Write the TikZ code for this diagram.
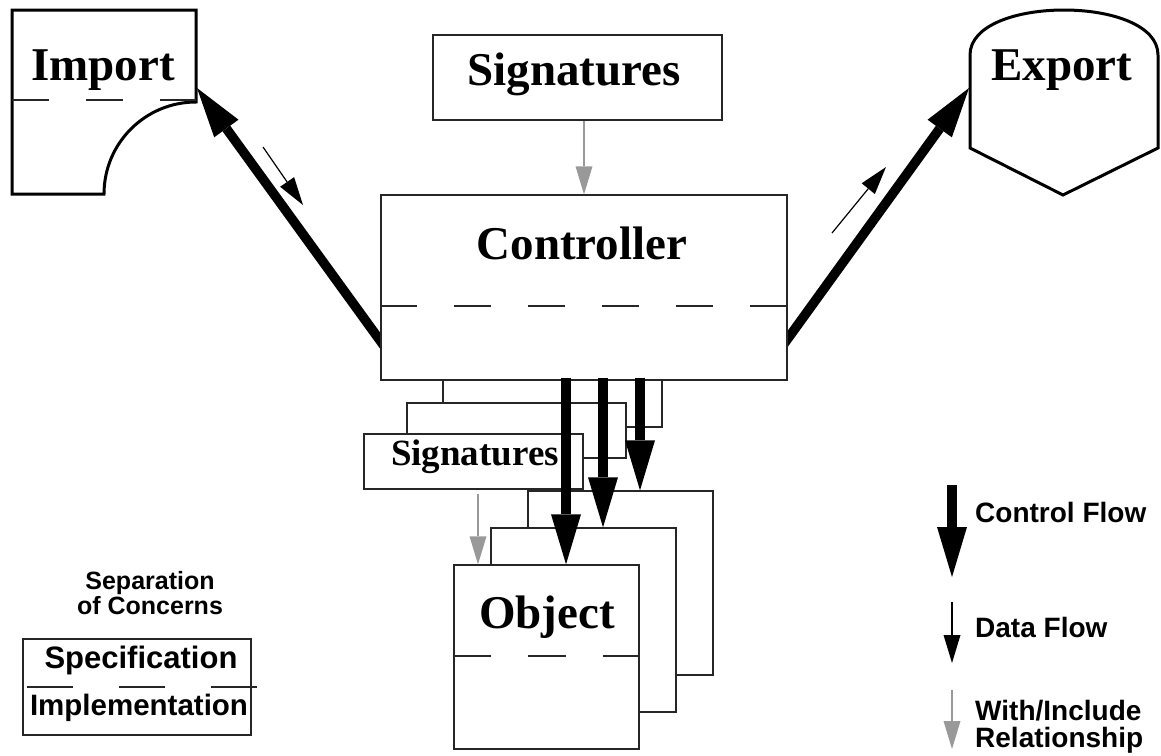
\documentclass[tikz,border=0pt]{standalone}
\usepackage{fontspec}
\setmainfont{Liberation Serif}
\setsansfont{Liberation Sans}
\usetikzlibrary{arrows.meta,backgrounds}

\begin{document}
\begin{tikzpicture}[x=1pt,y=-1pt]
        \tikzstyle{box}=[rectangle, draw=black!85, line width=1.3pt, fill=white, inner sep=0pt]
        \tikzstyle{heavy}=[draw=black, line width=3pt, fill=white, line join=miter]
        \tikzstyle{split}=[draw=black!85, line width=1.2pt, dash pattern=on 37pt off 37pt]
        \tikzstyle{big}=[inner sep=0pt, anchor=base, font=\bfseries\fontsize{47}{50}\selectfont]
        \tikzstyle{mid}=[inner sep=0pt, anchor=base, font=\bfseries\fontsize{37}{40}\selectfont]
        \tikzstyle{legend}=[inner sep=0pt, anchor=base west, align=left, font=\sffamily\bfseries\fontsize{28}{27}\selectfont]
        \tikzstyle{concern}=[inner sep=0pt, anchor=base, align=center, font=\sffamily\bfseries\fontsize{29.5}{30}\selectfont]
        \tikzstyle{control}=[draw=black, line width=9.5pt, -{Triangle[length=50pt, width=30pt, line width=0pt]}]
        \tikzstyle{data}=[draw=black, line width=1.2pt, -{Triangle[length=28pt, width=17pt, line width=0pt]}]
        \tikzstyle{with}=[draw=black!40, line width=1.6pt, -{Triangle[length=28pt, width=17pt, line width=0pt]}]
        \useasboundingbox (0,0) rectangle (1161,755);

        \draw[heavy] (12,10) -- (196,10) -- (196,102)
          arc[start angle=270, end angle=180, radius=92] -- (12,194) -- cycle;
        \draw[split] (12,100) -- (196,100);
        \node[big] (imp) at (103,80) {Import};
        \coordinate (imp-in) at (197,88);

        \draw[heavy] (970,148) -- (970,55) .. controls (970,-5) and (1158,-5) .. (1158,55)
          -- (1158,148) -- (1063,195) -- cycle;
        \node[big] (exp) at (1062,80) {Export};
        \coordinate (exp-in) at (969,88);

        \foreach \k/\cx/\cy in {3/552.5/399.5, 2/516.5/430.5, 1/473.5/461.5}
          \node[box, minimum width=219pt, minimum height=55pt] (sig\k) at (\cx,\cy) {};
        \node[mid] (sig-lbl) at (475,465) {Signatures};

        \coordinate (ctrl-w) at (392,357);
        \coordinate (ctrl-e) at (776,355);
        \node[box, minimum width=406pt, minimum height=185pt] (ctrl) at (584,287.5) {};
        \draw[split] ([yshift=-18.5pt]ctrl.west) -- ([yshift=-18.5pt]ctrl.east);
        \node[big] (ctrl-lbl) at (582,259) {Controller};
        \begin{pgfonlayer}{background}
          \draw[control] (ctrl-w) -- (imp-in);
          \draw[control] (ctrl-e) -- (exp-in);
        \end{pgfonlayer}
        \coordinate (imp-a) at (263,147);
        \coordinate (imp-b) at (303,205);
        \coordinate (exp-a) at (832,233);
        \coordinate (exp-b) at (886,167);
        \draw[data] (imp-a) -- (imp-b);
        \draw[data] (exp-a) -- (exp-b);

        \node[box, minimum width=289pt, minimum height=85pt] (sigtop) at (577.5,77.5) {};
        \node[big] (sigtop-lbl) at (574,85) {Signatures};
        \draw[with] (sigtop.south -| ctrl.north) -- (ctrl.north);

        \foreach \k in {3,2,1}
        {
          \pgfmathsetmacro{\cx}{546.5 + 37*(\k-1)};
          \pgfmathsetmacro{\cy}{657 - 37*(\k-1)};
          \node[box, minimum width=185pt, minimum height=184pt] (obj\k) at (\cx,\cy) {};
        }
        \draw[split, dash pattern=on 38pt off 37pt] ([yshift=1pt]obj1.west) -- ([yshift=1pt]obj1.east);
        \node[big] (obj-lbl) at (547,628) {Object};

        \foreach \k in {1,2,3}
        {
          \coordinate (in\k) at ([xshift=19.5pt]obj\k.north);
          \draw[control] ([yshift=3pt]in\k |- ctrl.south) -- (in\k);
        }
        \draw[with, shorten <=4pt] ([xshift=4.5pt]sig1.south) -- ([xshift=4.5pt]sig1.south |- obj1.north);

        \coordinate (cf-a) at (952,485);
        \coordinate (cf-b) at (952,577);
        \coordinate (df-a) at (952,602);
        \coordinate (df-b) at (952,663);
        \coordinate (wi-a) at (952,690);
        \coordinate (wi-b) at (952,749);
        \draw[control, line width=10pt] (cf-a) -- (cf-b);
        \draw[data] (df-a) -- (df-b);
        \draw[with] (wi-a) -- (wi-b);
        \node[legend] (cf-lbl) at (975,522) {Control Flow};
        \node[legend] (df-lbl) at (975,637) {Data Flow};
        \node[legend] (wi-lbl) at (975,747) {With/Include\\Relationship};

        \node[inner sep=0pt, anchor=base, align=center, font=\sffamily\bfseries\fontsize{25}{21}\selectfont]
          (soc) at (150,614) {Separation\\of Concerns};
        \node[box, minimum width=228pt, minimum height=96pt] (socbox) at (137,687) {};
        \draw[split, dash pattern=on 46pt off 46pt] (27,687) -- (257,687);
        \node[concern, font=\sffamily\bfseries\fontsize{31}{31}\selectfont] (spec) at (141,668) {Specification};
        \node[concern] (impl) at (139,715) {Implementation};
\end{tikzpicture}
\end{document}
